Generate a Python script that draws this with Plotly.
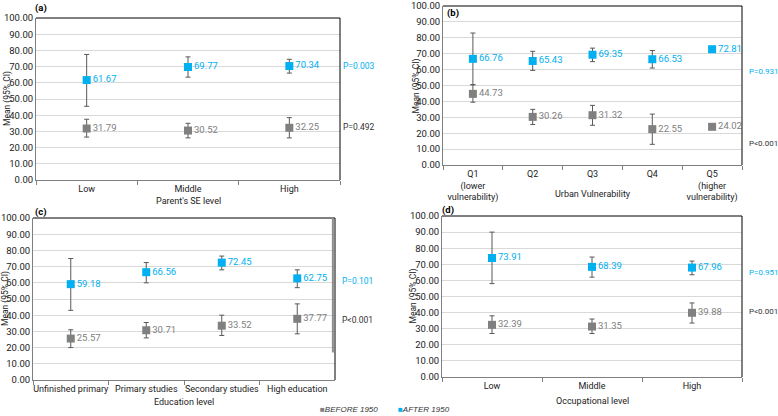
import plotly.graph_objects as go

W, H = 778, 416

# ---------------- data ----------------
cat_a = ["Low", "Middle", "High"]
before_a = [31.79, 30.52, 32.25]
before_a_lo = [26.5, 26.0, 26.0]
before_a_hi = [37.5, 35.0, 38.5]
after_a = [61.67, 69.77, 70.34]
after_a_lo = [45.5, 63.5, 66.0]
after_a_hi = [77.5, 76.0, 74.5]

cat_b = ["Q1<br>(lower<br>vulnerability)", "Q2", "Q3", "Q4", "Q5<br>(higher<br>vulnerability)"]
before_b = [44.73, 30.26, 31.32, 22.55, 24.02]
before_b_lo = [39.5, 25.5, 25.0, 13.0, None]
before_b_hi = [50.5, 35.0, 37.5, 32.0, None]
after_b = [66.76, 65.43, 69.35, 66.53, 72.81]
after_b_lo = [50.5, 59.5, 65.0, 61.0, None]
after_b_hi = [83.0, 71.5, 73.5, 72.0, None]

cat_c = ["Unfinished primary", "Primary studies", "Secondary studies", "High education"]
before_c = [25.57, 30.71, 33.52, 37.77]
before_c_lo = [20.0, 26.0, 27.5, 28.5]
before_c_hi = [31.0, 35.5, 40.0, 47.0]
after_c = [59.18, 66.56, 72.45, 62.75]
after_c_lo = [43.0, 60.0, 68.0, 57.0]
after_c_hi = [75.0, 72.5, 76.5, 68.0]

cat_d = ["Low", "Middle", "High"]
before_d = [32.39, 31.35, 39.88]
before_d_lo = [27.0, 27.0, 33.5]
before_d_hi = [38.0, 36.0, 46.0]
after_d = [73.91, 68.39, 67.96]
after_d_lo = [58.0, 62.0, 63.5]
after_d_hi = [90.0, 74.5, 72.0]

pvals = {
    "a": [("P=0.003", 70.5, "after"), ("P=0.492", 32.5, "before")],
    "b": [("P=0.931", 59.0, "after"), ("P<0.001", 13.7, "before")],
    "c": [("P=0.101", 61.0, "after"), ("P<0.001", 37.0, "before")],
    "d": [("P=0.951", 64.6, "after"), ("P<0.001", 40.4, "before")],
}
xtitles = {"a": "Parent's SE level", "b": "Urban Vulnerability",
           "c": "Education level", "d": "Occupational level"}
ytitle = "Mean (95% CI)"
yticks = [0, 10, 20, 30, 40, 50, 60, 70, 80, 90, 100]

BLUE = "#00B0F0"
GRAY = "#808080"
ERR = "#595959"
FONT = "Roboto"
TXT = "#222222"

def px_x(p):
    return p / W

def px_y(p):
    return 1 - p / H

# panel geometry in pixels: left, right, top, bottom
geom = {
    "a": (36, 340, 18, 180),
    "b": (443, 742, 6, 165),
    "c": (33, 335, 218, 380),
    "d": (442, 742, 216, 377),
}
# x-title y pixel, y-title x pixel, p-value x pixel
xtitle_y = {"a": 201, "b": 194, "c": 402, "d": 401}
ytitle_x = {"a": 7, "b": 416, "c": 5, "d": 413}
pval_x = {"a": 341, "b": 747, "c": 340, "d": 747}
pval_size = {"a": 8.5, "b": 8, "c": 8.5, "d": 8}

panels = [
    ("a", cat_a, before_a, before_a_lo, before_a_hi, after_a, after_a_lo, after_a_hi),
    ("b", cat_b, before_b, before_b_lo, before_b_hi, after_b, after_b_lo, after_b_hi),
    ("c", cat_c, before_c, before_c_lo, before_c_hi, after_c, after_c_lo, after_c_hi),
    ("d", cat_d, before_d, before_d_lo, before_d_hi, after_d, after_d_lo, after_d_hi),
]

fig = go.Figure()
layout = dict(
    width=W, height=H, margin=dict(l=0, r=0, t=0, b=0),
    paper_bgcolor="white", plot_bgcolor="white",
    showlegend=False, font=dict(family=FONT, size=9, color=TXT),
)
annotations = []
shapes = []

def err(vals, lo, hi):
    plus = [(h - v) if h is not None else 0 for v, h in zip(vals, hi)]
    minus = [(v - l) if l is not None else 0 for v, l in zip(vals, lo)]
    return plus, minus

for i, (key, cats, bv, blo, bhi, av, alo, ahi) in enumerate(panels):
    n = i + 1
    xa = "x" if n == 1 else f"x{n}"
    ya = "y" if n == 1 else f"y{n}"
    xname = "xaxis" if n == 1 else f"xaxis{n}"
    yname = "yaxis" if n == 1 else f"yaxis{n}"
    l, r, t, b = geom[key]

    for vals, lo, hi, col in [(bv, blo, bhi, GRAY), (av, alo, ahi, BLUE)]:
        plus, minus = err(vals, lo, hi)
        fig.add_trace(go.Scatter(
            x=cats, y=vals, xaxis=xa, yaxis=ya,
            mode="markers+text",
            marker=dict(symbol="square", size=8, color=col),
            text=[f"{v:.2f}" for v in vals],
            textposition="middle right",
            textfont=dict(family=FONT, size=9.5, color=col),
            error_y=dict(type="data", symmetric=False, array=plus, arrayminus=minus,
                         color=ERR, thickness=1, width=2.5),
            cliponaxis=False,
        ))

    layout[xname] = dict(
        domain=[px_x(l), px_x(r)], anchor=ya, type="category",
        range=[-0.5, len(cats) - 0.5],
        showline=True, linecolor="#7f7f7f", linewidth=1,
        ticks="outside", tickson="boundaries", ticklen=4, tickcolor="#7f7f7f",
        showgrid=False, tickangle=0, automargin=False,
        ticklabelstandoff=0,
        tickfont=dict(family=FONT, size=9, color=TXT),
        fixedrange=True,
    )
    layout[yname] = dict(
        domain=[px_y(b), px_y(t)], anchor=xa, range=[0, 100],
        tickvals=yticks, tickformat=".2f",
        showline=True, linecolor="#7f7f7f", linewidth=1,
        ticks="",
        showgrid=True, gridcolor="#d9d9d9", gridwidth=1,
        zeroline=False, automargin=False, ticklabeloverflow="allow",
        tickfont=dict(family=FONT, size=9.5, color=TXT),
        fixedrange=True,
    )

    xd = f"{xa} domain"
    yd = f"{ya} domain"
    # top and right frame
    shapes.append(dict(type="line", xref=xd, yref=yd, x0=0, x1=1, y0=1, y1=1,
                       line=dict(color="black", width=1)))
    shapes.append(dict(type="line", xref=xd, yref=yd, x0=1, x1=1, y0=0, y1=1,
                       line=dict(color="black", width=1)))
    if key == "c":
        shapes.append(dict(type="line", xref=xd, yref=ya, x0=0.993, x1=0.993, y0=17, y1=100,
                           line=dict(color="#8c8c8c", width=2)))

    # axis titles
    annotations.append(dict(text=xtitles[key], xref=xd, yref="paper",
                            x=0.5, y=px_y(xtitle_y[key]), xanchor="center", yanchor="middle",
                            showarrow=False, font=dict(family=FONT, size=9, color=TXT)))
    annotations.append(dict(text=ytitle, xref="paper", yref=yd, textangle=-90,
                            x=px_x(ytitle_x[key]), y=0.5, xanchor="center", yanchor="middle",
                            showarrow=False, font=dict(family=FONT, size=8.5, color=TXT)))

    # p-values
    for txt, yv, grp in pvals[key]:
        annotations.append(dict(
            text=txt, xref="paper", yref=ya, x=px_x(pval_x[key]), y=yv,
            xanchor="left", yanchor="middle", showarrow=False,
            font=dict(family=FONT, size=pval_size[key],
                      color=BLUE if grp == "after" else "#333333"),
        ))

# panel labels
for lab, xp, yp in [("(a)", 33, 8), ("(b)", 445, 13), ("(c)", 33, 212), ("(d)", 440, 210)]:
    annotations.append(dict(text=f"<b>{lab}</b>", xref="paper", yref="paper",
                            x=px_x(xp), y=px_y(yp), xanchor="left", yanchor="middle",
                            showarrow=False, font=dict(family=FONT, size=9.5, color="black")))

# legend (as annotations)
annotations.append(dict(text="<span style='color:#808080'>■</span><i>BEFORE 1950</i>",
                        xref="paper", yref="paper", x=px_x(318), y=px_y(409),
                        xanchor="left", yanchor="middle", showarrow=False,
                        font=dict(family="Liberation Sans", size=8, color="#333333")))
annotations.append(dict(text="<span style='color:#00B0F0'>■</span><i>AFTER 1950</i>",
                        xref="paper", yref="paper", x=px_x(396), y=px_y(409),
                        xanchor="left", yanchor="middle", showarrow=False,
                        font=dict(family="Liberation Sans", size=8, color="#333333")))

layout["annotations"] = annotations
layout["shapes"] = shapes
fig.update_layout(**layout)
fig.write_html(
    "out.html",
    config={"displayModeBar": False},
    post_script="document.body.style.margin='0';document.body.style.overflow='hidden';",
)
